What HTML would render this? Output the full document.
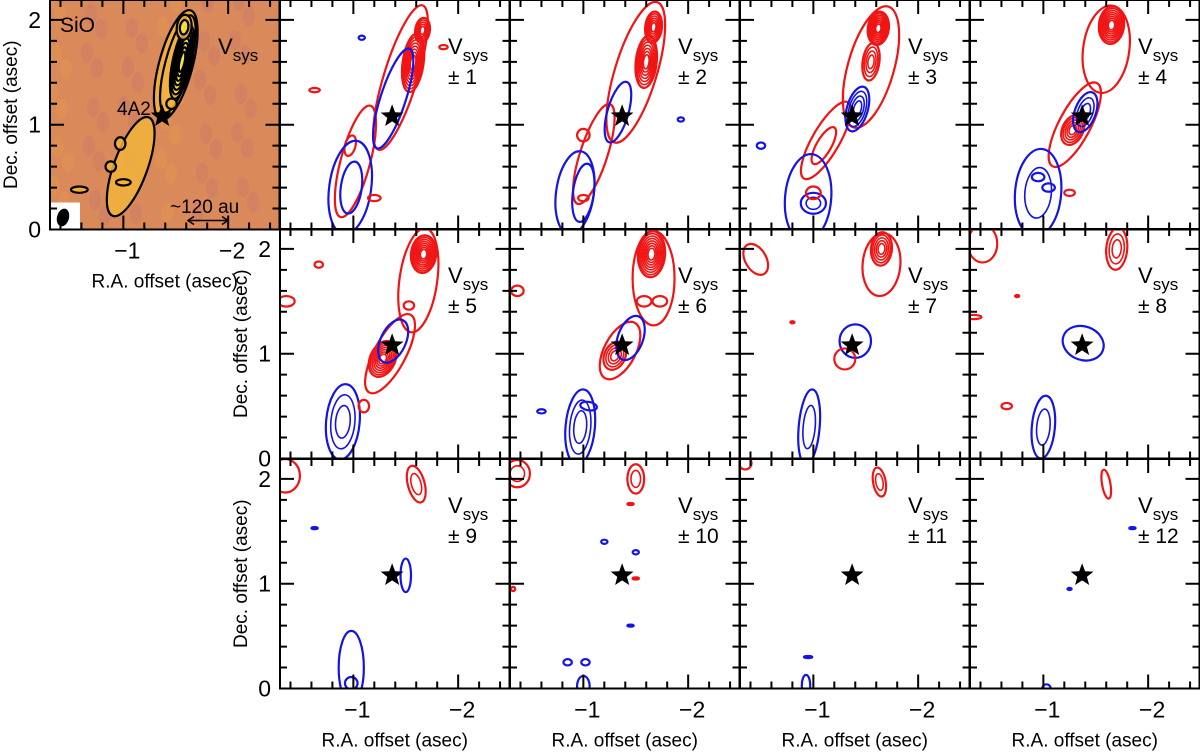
<!DOCTYPE html>
<html><head><meta charset="utf-8"><style>
html,body{margin:0;padding:0;background:#fff;}
svg{display:block;font-family:"Liberation Sans",sans-serif;}
</style></head><body>
<svg id="fig" width="1200" height="752" viewBox="0 0 1200 752" xmlns="http://www.w3.org/2000/svg"></svg>
<script>
// ---- data ----
const panelLabels = ["", "1","2","3","4","5","6","7","8","9","10","11","12"];
const starPos = [1.37, 1.08];
const xTickLabels = ["−1","−2"];
const xTickValues = [1, 2];
const yTickLabels = ["0","1","2"];
const yTickValues = [0, 1, 2];
// contours: [color, u(-RA), dec, semi-major, semi-minor, tilt(deg from vertical), nested count]
const contoursSiO = [
 ["k",1.50,1.57,0.54,0.16,15,1],["k",1.52,1.58,0.48,0.12,15,1],["k",1.56,1.6,0.36,0.09,12,7],["k",1.58,1.93,0.12,0.07,8,2],["k",1.46,1.2,0.05,0.05,0,1],
 ["k",1.07,0.6,0.5,0.16,20,1],["k",0.97,0.82,0.06,0.05,0,1],["k",0.88,0.6,0.05,0.05,0,1],["k",1.0,0.45,0.03,0.07,0,1],["k",0.58,0.38,0.03,0.08,0,1]
];
const contoursP = [
 [],
 [["r",1.57,1.59,0.28,0.1,8,8],["r",1.66,1.9,0.12,0.07,8,5],["r",1.45,1.45,0.72,0.16,17,1],["r",1.02,0.65,0.55,0.14,15,1],["r",0.97,0.8,0.1,0.05,15,1],["b",0.97,0.4,0.45,0.2,8,1],["b",1.38,1.25,0.5,0.12,18,1],["b",0.98,0.4,0.25,0.1,8,1],["r",0.63,1.33,0.02,0.05,0,1],["b",1.08,1.83,0.02,0.03,0,1],["r",1.2,0.3,0.03,0.06,0,1],["r",1.86,1.74,0.02,0.04,0,1]],
 [["r",1.6,1.6,0.25,0.1,6,7],["r",1.67,1.93,0.15,0.08,6,6],["r",1.5,1.5,0.7,0.2,17,1],["r",1.1,0.72,0.5,0.13,18,1],["r",1.0,0.9,0.06,0.06,0,1],["b",0.92,0.35,0.4,0.18,8,1],["b",1.0,0.35,0.28,0.1,8,1],["b",1.33,1.12,0.3,0.1,16,1],["b",1.93,1.05,0.02,0.03,0,1],["r",1.0,0.3,0.03,0.05,0,1]],
 [["r",1.62,1.92,0.16,0.1,8,8],["r",1.55,1.6,0.18,0.08,8,4],["r",1.55,1.55,0.6,0.22,16,1],["r",1.12,0.85,0.42,0.13,30,1],["r",1.1,0.8,0.2,0.07,30,1],["b",1.42,1.15,0.22,0.1,16,4],["b",0.95,0.3,0.42,0.22,5,1],["b",1.0,0.25,0.1,0.12,0,2],["b",0.5,0.8,0.03,0.04,0,1],["r",1.0,0.35,0.06,0.07,0,1]],
 [["r",1.65,1.95,0.18,0.12,6,8],["r",1.6,1.72,0.42,0.22,8,1],["r",1.28,0.95,0.15,0.1,25,5],["r",1.3,1.0,0.45,0.15,28,1],["b",1.4,1.12,0.2,0.1,20,3],["b",0.95,0.35,0.42,0.22,5,2],["b",0.95,0.5,0.04,0.06,0,1],["b",1.05,0.4,0.04,0.06,0,1],["r",1.25,0.35,0.03,0.05,0,1]],
 [["r",1.67,1.95,0.18,0.12,6,8],["r",1.62,1.7,0.5,0.18,8,1],["r",1.28,0.95,0.18,0.12,25,7],["r",1.35,1.0,0.42,0.15,28,1],["b",1.38,1.12,0.22,0.12,25,1],["b",0.9,0.35,0.36,0.16,5,3],["r",0.67,1.85,0.03,0.04,0,1],["r",0.36,1.5,0.05,0.08,0,1],["r",1.53,1.46,0.04,0.05,0,1],["r",1.1,0.5,0.06,0.05,0,1]],
 [["r",1.65,1.95,0.22,0.13,4,8],["r",1.67,1.72,0.45,0.2,0,1],["r",1.58,1.5,0.05,0.07,0,1],["r",1.73,1.5,0.05,0.07,0,1],["r",1.3,0.98,0.14,0.1,25,4],["r",1.35,1.03,0.3,0.15,28,1],["b",1.45,1.15,0.22,0.12,20,1],["b",0.97,0.3,0.36,0.14,5,3],["r",0.37,1.6,0.05,0.06,0,1],["b",0.6,0.45,0.02,0.04,0,1],["b",1.05,0.5,0.04,0.08,10,1]],
 [["r",1.65,2.0,0.16,0.1,5,5],["r",1.65,1.85,0.3,0.18,5,1],["r",0.45,1.9,0.16,0.1,-30,1],["b",1.4,1.12,0.16,0.15,0,1],["r",1.3,0.95,0.1,0.1,0,1],["b",0.96,0.3,0.36,0.1,5,2],["r",0.8,1.3,0.01,0.02,0,1]],
 [["r",1.7,2.0,0.2,0.1,5,3],["r",0.42,2.05,0.18,0.14,0,1],["b",1.38,1.1,0.16,0.2,20,1],["r",0.65,0.5,0.03,0.05,0,1],["b",1.0,0.3,0.3,0.11,5,2],["r",0.33,1.35,0.02,0.08,0,1],["r",0.75,1.55,0.01,0.02,0,1]],
 [["r",1.6,1.95,0.18,0.08,-15,2],["r",0.35,2.03,0.16,0.14,0,1],["b",1.5,1.08,0.16,0.05,0,1],["b",0.63,1.53,0.01,0.03,0,1],["b",0.98,0.2,0.35,0.12,0,1],["b",0.98,0.05,0.06,0.06,0,1]],
 [["r",0.37,2.05,0.13,0.12,0,2],["r",1.5,2.0,0.14,0.08,0,2],["b",0.85,0.25,0.03,0.04,0,1],["b",1.02,0.25,0.03,0.04,0,1],["b",1.0,0.02,0.1,0.06,0,1],["r",1.45,1.76,0.01,0.03,0,1],["r",0.33,0.95,0.02,0.02,0,1],["r",1.5,1.05,0.01,0.03,0,1],["b",1.2,1.4,0.02,0.03,0,1],["b",1.5,1.3,0.02,0.03,0,1],["b",1.45,0.6,0.01,0.03,0,1]],
 [["r",1.63,1.97,0.14,0.06,-10,2],["r",0.35,2.15,0.06,0.06,0,1],["b",0.95,0.3,0.01,0.04,0,1],["b",0.93,0.03,0.1,0.04,0,1]],
 [["r",1.6,1.95,0.14,0.04,-10,1],["b",1.85,1.53,0.01,0.03,0,1],["b",1.25,0.95,0.01,0.02,0,1],["b",1.03,0.0,0.04,0.04,0,1]]
];
// ---- layout ----
const NS="http://www.w3.org/2000/svg";
const svg=document.getElementById('fig');
const S=104.8;
const cols=[50,280,510,740,970];
const rows=[0,229,459];
const PW=229.5, PH=229.5;
const panels=[[0,0]];
for(let r=0;r<3;r++)for(let c=1;c<5;c++)panels.push([c,r]);
function mk(tag,attrs,parent){const e=document.createElementNS(NS,tag);for(const k in attrs)e.setAttribute(k,attrs[k]);(parent||svg).appendChild(e);return e;}
const col={r:"#f01414",b:"#1414e6",k:"#000"};
function starPath(cx,cy,R){let d="";for(let i=0;i<10;i++){const a=-Math.PI/2+i*Math.PI/5;const rr=i%2?R*0.42:R;d+=(i?"L":"M")+(cx+rr*Math.cos(a)).toFixed(1)+","+(cy+rr*Math.sin(a)).toFixed(1);}return d+"Z";}

panels.forEach((p,i)=>{
  const x0=cols[p[0]], y0=rows[p[1]], yb=y0+PH;
  const g=mk('g',{},svg);
  
  
  const clipId='c'+i;
  const cp=mk('clipPath',{id:clipId},g);mk('rect',{x:x0,y:y0,width:PW,height:PH},cp);
  const px=u=>x0+(u-0.3)*S, py=d=>yb-d*S;
  const inner=mk('g',{'clip-path':'url(#'+clipId+')'},g);
  if(i===0){
    const bg=mk('rect',{x:x0,y:y0,width:PW,height:PH,fill:"#d9895a"},inner);
    
    for(let k=0;k<60;k++){const bx=x0+((k*37)%220),by=y0+((k*53)%225);mk('ellipse',{cx:bx,cy:by,rx:6,ry:10,fill:(k%3?"#c9786a":"#e59a4e"),opacity:0.45},inner);}
  }
  const list=i===0?contoursSiO:contoursP[i];
  list.forEach((c,j)=>{
    const [cc,u,d,a,b,t,n]=c;
    for(let k=0;k<n;k++){
      const f=1-k/Math.max(n,1)*0.85;
      const e=mk('ellipse',{cx:px(u),cy:py(d),rx:(b*S*f).toFixed(2),ry:(a*S*f).toFixed(2),transform:`rotate(${t} ${px(u)} ${py(d)})`,fill:(i===0?(k===0?"#f2b43c":"#f5e63a"):"none"),'fill-opacity':i===0?0.85:1,stroke:col[cc],'stroke-width':(i===0||k===0)?2.2:1.6},inner);
      
      
    }
  });
  const st=mk('path',{d:starPath(px(starPos[0]),py(starPos[1]),12),fill:"#000"},inner);
  
  if(i===0){
    const bm=mk('rect',{x:x0,y:yb-27,width:30,height:27,fill:"#fff"},inner);
    
    mk('ellipse',{cx:x0+13,cy:yb-12,rx:6,ry:9,transform:`rotate(15 ${x0+13} ${yb-12})`,fill:"#000"},inner);
    const sl=mk('text',{x:x0+10,y:y0+32,'font-size':21},g);sl.textContent="SiO";
    
    const al=mk('text',{x:x0+67,y:y0+115,'font-size':19},g);al.textContent="4A2";
    
    const sb=mk('text',{x:x0+120,y:y0+213,'font-size':19},g);sb.textContent="~120 au";
    
    mk('line',{x1:x0+138,x2:x0+178,y1:yb-9,y2:yb-9,stroke:"#000",'stroke-width':1.5},g);
    mk('path',{d:`M${x0+144},${yb-13}L${x0+138},${yb-9}L${x0+144},${yb-5}M${x0+172},${yb-13}L${x0+178},${yb-9}L${x0+172},${yb-5}`,stroke:"#000",fill:"none",'stroke-width':1.5},g);
  }
  const vt=mk('text',{x:x0+168,y:y0+54,'font-size':22},g);
  vt.innerHTML='V<tspan font-size="17" dy="7">sys</tspan>';
  
  if(i>0){const pm=mk('text',{x:x0+168,y:y0+84,'font-size':21},g);pm.textContent="± "+panelLabels[i];
    }
  mk('rect',{x:x0,y:y0,width:PW,height:PH,fill:"none",stroke:"#000",'stroke-width':2},g);
  let tk="";
  for(let v=0.4;v<=2.5;v+=0.2){const X=px(v);if(X<=x0+1||X>=x0+PW-1)continue;const L=Math.abs(v-Math.round(v))<0.01?14:7;tk+=`M${X},${yb}v${-L}M${X},${y0}v${L}`;}
  for(let v=0.2;v<2.2;v+=0.2){const Y=py(v);if(Y<=y0+1)continue;const L=Math.abs(v-Math.round(v))<0.01?14:7;tk+=`M${x0},${Y}h${L}M${x0+PW},${Y}h${-L}`;}
  mk('path',{d:tk,stroke:"#000",'stroke-width':2,fill:"none"},g);
  const leftEdge = (p[0]===0)||(p[0]===1&&p[1]>0);
  const bottomEdge = (p[1]===2)||i===0;
  if(leftEdge){
    yTickValues.forEach((v,k)=>{const t=mk('text',{x:x0-9,y:py(v)+8,'font-size':23,'text-anchor':'end'},g);t.textContent=yTickLabels[k];
      });
    const yl=mk('text',{x:0,y:0,'font-size':19,'text-anchor':'middle',transform:`translate(${x0-33},${y0+PH/2}) rotate(-90)`},g);
    yl.textContent="Dec. offset (asec)";
  }
  if(bottomEdge){
    xTickValues.forEach((v,k)=>{const t=mk('text',{x:px(v)+4,y:yb+29,'font-size':23,'text-anchor':'middle'},g);t.textContent=xTickLabels[k];
      });
    const xl=mk('text',{x:x0+PW/2,y:yb+58,'font-size':19,'text-anchor':'middle'},g);
    xl.textContent="R.A. offset (asec)";
  }
});
</script>
</body></html>
